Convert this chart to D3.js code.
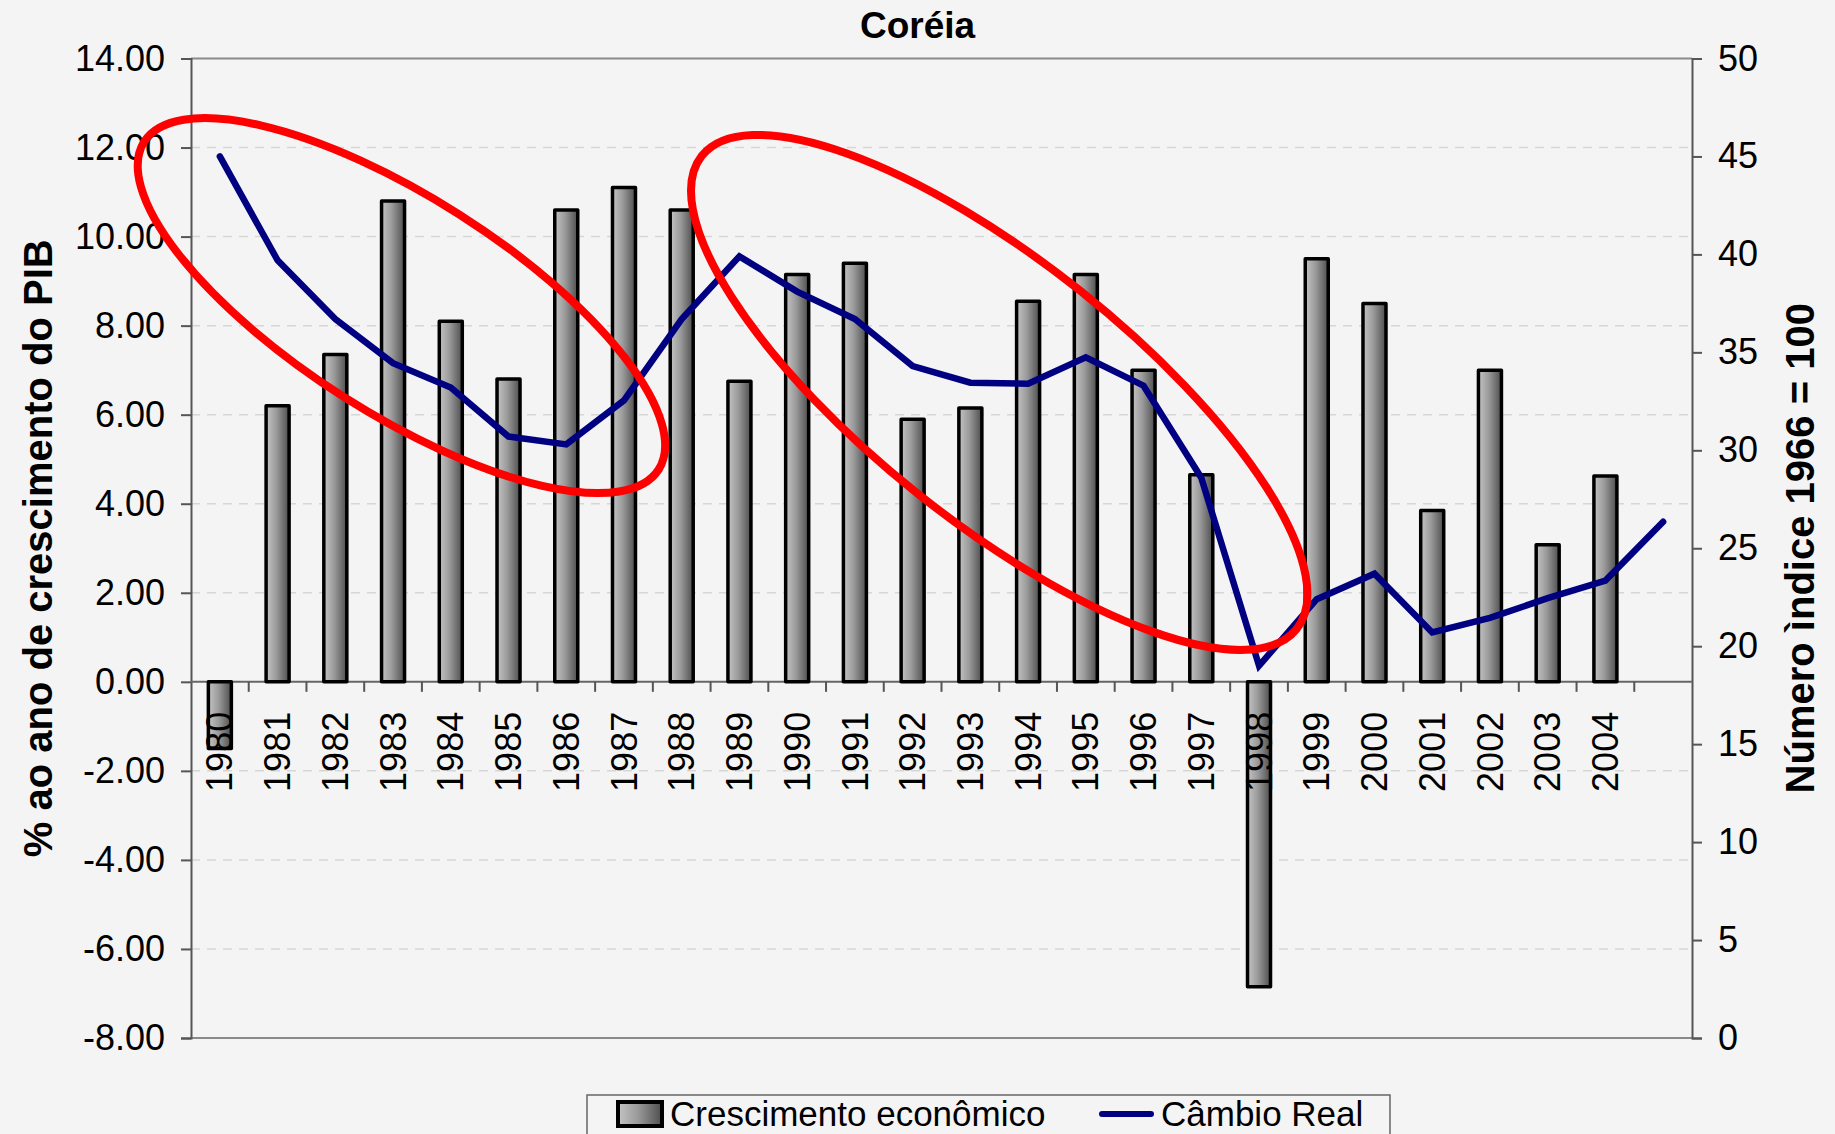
<!DOCTYPE html>
<html>
<head>
<meta charset="utf-8">
<script src="https://cdn.jsdelivr.net/npm/d3@7"></script>
<style>
    body { margin: 0; background: #f4f4f4; }
    svg { display: block; font-family: 'Liberation Sans', Arial, sans-serif; }
</style>
</head>
<body>
<div id="chart"></div>
<script>
// categories (the last slot only carries the exchange-rate point)
const years = ['1980', '1981', '1982', '1983', '1984', '1985', '1986', '1987', '1988', '1989',
    '1990', '1991', '1992', '1993', '1994', '1995', '1996', '1997', '1998', '1999',
    '2000', '2001', '2002', '2003', '2004', '2005'];
const yearLabels = ['1980', '1981', '1982', '1983', '1984', '1985', '1986', '1987', '1988', '1989',
    '1990', '1991', '1992', '1993', '1994', '1995', '1996', '1997', '1998', '1999',
    '2000', '2001', '2002', '2003', '2004', ''];

// % a.a. de crescimento do PIB (left axis)
const crescimento = [-1.5, 6.2, 7.35, 10.8, 8.1, 6.8, 10.6, 11.1, 10.6, 6.75,
    9.15, 9.4, 5.9, 6.15, 8.55, 9.15, 7.0, 4.65, -6.85, 9.5,
    8.5, 3.85, 7.0, 3.08, 4.62, null];

// câmbio real, índice 1966 = 100 (right axis)
const cambio = [45.0, 39.7, 36.7, 34.45, 33.2, 30.7, 30.3, 32.55, 36.7, 39.9,
    38.1, 36.7, 34.3, 33.45, 33.4, 34.75, 33.3, 28.6, 19.0, 22.4,
    23.7, 20.7, 21.45, 22.45, 23.35, 26.35];

const leftTicks = [14, 12, 10, 8, 6, 4, 2, 0, -2, -4, -6, -8];
const rightTicks = [0, 5, 10, 15, 20, 25, 30, 35, 40, 45, 50];

// highlighted periods: centre given as category position and left-axis value
const destaqueCentro = [3.645, 14.0];
const destaqueValor = [8.45, 6.5];

document.addEventListener('DOMContentLoaded', () => {
    const width = 1835, height = 1134;
    const plot = { left: 191, right: 1692, top: 58.5, bottom: 1038 };
    const font = 36;

    const svg = d3.select('#chart').append('svg')
        .attr('width', width)
        .attr('height', height);

    svg.append('rect').attr('width', width).attr('height', height).attr('fill', '#f4f4f4');

    const grad = svg.append('defs').append('linearGradient')
        .attr('id', 'barGrad')
        .attr('x1', 0).attr('x2', 1).attr('y1', 0).attr('y2', 0);
    grad.append('stop').attr('offset', '0%').attr('stop-color', '#c4c4c4');
    grad.append('stop').attr('offset', '45%').attr('stop-color', '#9a9a9a');
    grad.append('stop').attr('offset', '100%').attr('stop-color', '#4e4e4e');

    const x = d3.scaleBand().domain(years).range([plot.left, plot.right]).padding(0);
    const xPos = d3.scaleLinear().domain([0, years.length]).range([plot.left, plot.right]);
    const yL = d3.scaleLinear().domain([-8, 14]).range([plot.bottom, plot.top]);
    const yR = d3.scaleLinear().domain([0, 50]).range([plot.bottom, plot.top]);
    const bw = x.bandwidth();

    // gridlines
    svg.append('g')
        .selectAll('line')
        .data(leftTicks.filter(d => d !== 14 && d !== -8 && d !== 0))
        .join('line')
        .attr('x1', plot.left).attr('x2', plot.right)
        .attr('y1', d => yL(d)).attr('y2', d => yL(d))
        .attr('stroke', '#d6d6d6')
        .attr('stroke-width', 1.5)
        .attr('stroke-dasharray', '9,7');

    // frame top/bottom
    [14, -8].forEach(v => {
        svg.append('line')
            .attr('x1', plot.left).attr('x2', plot.right)
            .attr('y1', yL(v)).attr('y2', yL(v))
            .attr('stroke', '#8a8a8a').attr('stroke-width', 2);
    });

    // left axis
    const leftAxis = svg.append('g')
        .attr('transform', `translate(${plot.left},0)`)
        .call(d3.axisLeft(yL).tickValues(leftTicks).tickSize(10).tickPadding(16)
            .tickFormat(d => d.toFixed(2)));

    // right axis
    const rightAxis = svg.append('g')
        .attr('transform', `translate(${plot.right},0)`)
        .call(d3.axisRight(yR).tickValues(rightTicks).tickSize(10).tickPadding(16)
            .tickFormat(d3.format('d')));

    [leftAxis, rightAxis].forEach(g => {
        g.select('.domain').attr('stroke', '#555').attr('stroke-width', 2);
        g.selectAll('.tick line').attr('stroke', '#555').attr('stroke-width', 2);
        g.selectAll('.tick text')
            .attr('fill', '#000')
            .style('font-size', font + 'px')
            .style('font-family', "'Liberation Sans', Arial, sans-serif");
    });

    // category axis at zero
    const zeroY = yL(0);
    svg.append('line')
        .attr('x1', plot.left).attr('x2', plot.right)
        .attr('y1', zeroY).attr('y2', zeroY)
        .attr('stroke', '#666').attr('stroke-width', 2);
    svg.append('g')
        .selectAll('line')
        .data(years.slice(1))
        .join('line')
        .attr('x1', d => x(d)).attr('x2', d => x(d))
        .attr('y1', zeroY).attr('y2', zeroY + 10)
        .attr('stroke', '#555').attr('stroke-width', 2);

    // bars
    const barW = 23;
    const barData = years.map((year, i) => ({ year: year, value: crescimento[i] }))
        .filter(d => d.value !== null);
    svg.append('g')
        .selectAll('rect')
        .data(barData)
        .join('rect')
        .attr('x', d => x(d.year) + (bw - barW) / 2)
        .attr('width', barW)
        .attr('y', d => Math.min(yL(d.value), zeroY))
        .attr('height', d => Math.abs(yL(d.value) - zeroY))
        .attr('fill', 'url(#barGrad)')
        .attr('stroke', '#000')
        .attr('stroke-width', 3.5)
        .attr('stroke-linejoin', 'round');

    // year labels, rotated
    svg.append('g')
        .selectAll('text')
        .data(yearLabels)
        .join('text')
        .attr('transform', (d, i) => `translate(${x(years[i]) + bw / 2},${zeroY + 30}) rotate(-90)`)
        .attr('text-anchor', 'end')
        .attr('dy', '0.35em')
        .style('font-size', font + 'px')
        .attr('fill', '#000')
        .text(d => d);

    // exchange rate line
    const lineData = years.map((year, i) => ({ year: year, value: cambio[i] }));
    svg.append('path')
        .datum(lineData)
        .attr('fill', 'none')
        .attr('stroke', '#000080')
        .attr('stroke-width', 6.5)
        .attr('stroke-linejoin', 'miter')
        .attr('stroke-linecap', 'round')
        .attr('d', d3.line()
            .x(d => x(d.year) + bw / 2)
            .y(d => yR(d.value)));

    // red highlight ellipses
    const ellipseShape = [
        { rx: 305, ry: 108, angle: 32.5 },
        { rx: 380, ry: 130, angle: 38.5 }
    ];
    svg.append('g')
        .selectAll('ellipse')
        .data(ellipseShape)
        .join('ellipse')
        .attr('transform', (d, i) =>
            `translate(${xPos(destaqueCentro[i])},${yL(destaqueValor[i])}) rotate(${d.angle})`)
        .attr('rx', d => d.rx)
        .attr('ry', d => d.ry)
        .attr('fill', 'none')
        .attr('stroke', '#ff0000')
        .attr('stroke-width', 8);

    // title
    svg.append('text')
        .attr('x', width / 2)
        .attr('y', 38)
        .attr('text-anchor', 'middle')
        .style('font-size', '37px')
        .style('font-weight', 'bold')
        .text('Coréia');

    // axis titles
    const midY = (plot.top + plot.bottom) / 2;
    svg.append('text')
        .attr('transform', `translate(52,${midY}) rotate(-90)`)
        .attr('text-anchor', 'middle')
        .style('font-size', '40px')
        .style('font-weight', 'bold')
        .text('% ao ano de crescimento do PIB');
    svg.append('text')
        .attr('transform', `translate(1814,${midY}) rotate(-90)`)
        .attr('text-anchor', 'middle')
        .style('font-size', '40px')
        .style('font-weight', 'bold')
        .text('Número ìndice 1966 = 100');

    // legend
    const legend = svg.append('g').attr('transform', 'translate(587,1095)');
    legend.append('rect')
        .attr('width', 803).attr('height', 70)
        .attr('fill', '#f4f4f4')
        .attr('stroke', '#666').attr('stroke-width', 1.5);
    legend.append('rect')
        .attr('x', 31).attr('y', 7).attr('width', 44).attr('height', 24)
        .attr('fill', 'url(#barGrad)')
        .attr('stroke', '#000').attr('stroke-width', 4);
    legend.append('text')
        .attr('x', 83).attr('y', 31)
        .style('font-size', '35px')
        .text('Crescimento econômico');
    legend.append('line')
        .attr('x1', 515).attr('x2', 564).attr('y1', 19).attr('y2', 19)
        .attr('stroke', '#000080').attr('stroke-width', 6)
        .attr('stroke-linecap', 'round');
    legend.append('text')
        .attr('x', 574).attr('y', 31)
        .style('font-size', '35px')
        .text('Câmbio Real');
});
</script>
</body>
</html>
